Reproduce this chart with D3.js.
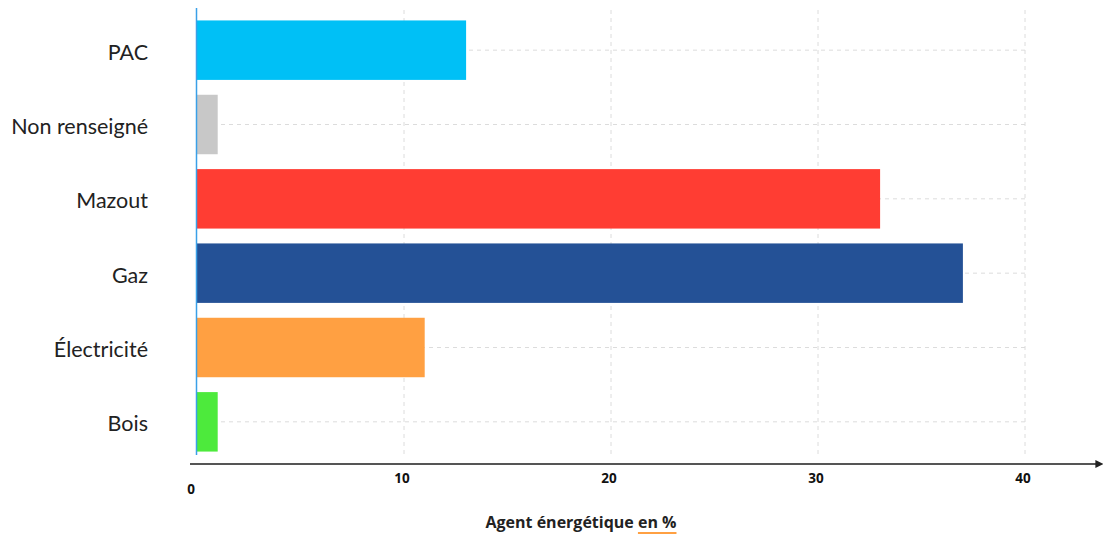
<!DOCTYPE html>
<html>
<head>
<meta charset="utf-8">
<script src="https://cdnjs.cloudflare.com/ajax/libs/d3/7.8.5/d3.min.js"></script>
<style>
    html, body { margin: 0; padding: 0; background: #fff; }
    svg { display: block; }
    .cat-label { font-family: Lato, "Open Sans", sans-serif; font-size: 21.5px; fill: #222; }
    .tick-label { font-family: "Open Sans", sans-serif; font-weight: 700; font-size: 13.5px; fill: #111; }
    .axis-title { font-family: "Open Sans", sans-serif; font-weight: 700; font-size: 16px; fill: #222; }
</style>
</head>
<body>
<div id="chart"></div>
<script>
// Energy sources, percent share
const categories = ['PAC', 'Non renseigné', 'Mazout', 'Gaz', 'Électricité', 'Bois'];
const values = [13, 1, 33, 37, 11, 1];
const colors = ['#00c0f6', '#c8c8c8', '#ff3d33', '#245196', '#ffa042', '#4dea3c'];
const tickValues = [0, 10, 20, 30, 40];

const width = 1103, height = 536;
const x0 = 197, yTop = 13, yBottom = 459, axisY = 464;

const svg = d3.select('#chart').append('svg')
    .attr('width', width)
    .attr('height', height);

const x = d3.scaleLinear().domain([0, 40]).range([x0, 1025]);
const y = d3.scaleBand().domain(categories).range([yTop, yBottom]).paddingInner(0.2).paddingOuter(0.1);

// dashed grid
const grid = svg.append('g').attr('stroke', '#dcdcdc').attr('stroke-dasharray', '4,4').attr('stroke-width', 1);
grid.selectAll('.vgrid')
    .data(tickValues.slice(1))
    .enter().append('line')
    .attr('x1', d => x(d)).attr('x2', d => x(d))
    .attr('y1', 10).attr('y2', 456);
grid.selectAll('.hgrid')
    .data(categories)
    .enter().append('line')
    .attr('x1', x0).attr('x2', x(40))
    .attr('y1', d => y(d) + y.bandwidth() / 2)
    .attr('y2', d => y(d) + y.bandwidth() / 2);

// bars
svg.selectAll('.bar')
    .data(categories)
    .enter().append('rect')
    .attr('x', x(0))
    .attr('y', d => y(d))
    .attr('width', (d, i) => x(values[i]) - x(0))
    .attr('height', y.bandwidth())
    .attr('fill', (d, i) => colors[i]);

// category labels
svg.selectAll('.cat-label')
    .data(categories)
    .enter().append('text')
    .attr('class', 'cat-label')
    .attr('x', 148)
    .attr('y', d => y(d) + y.bandwidth() / 2 + 2)
    .attr('dy', '0.35em')
    .attr('text-anchor', 'end')
    .text(d => d);

// left axis line (blue)
svg.append('line')
    .attr('x1', x0 - 0.5).attr('x2', x0 - 0.5)
    .attr('y1', 8).attr('y2', 455)
    .attr('stroke', '#3aa0e8').attr('stroke-width', 1.5);

// bottom axis with arrow
svg.append('defs').append('marker')
    .attr('id', 'arrow')
    .attr('viewBox', '0 0 10 10')
    .attr('refX', 2).attr('refY', 5)
    .attr('markerWidth', 4).attr('markerHeight', 4)
    .attr('orient', 'auto')
    .append('path').attr('d', 'M0,0 L10,5 L0,10 Z').attr('fill', '#222');

svg.append('line')
    .attr('x1', 190).attr('x2', 1097)
    .attr('y1', axisY).attr('y2', axisY)
    .attr('stroke', '#555').attr('stroke-width', 2)
    .attr('marker-end', 'url(#arrow)');

// tick labels (the zero sits a bit lower)
svg.selectAll('.tick-label')
    .data(tickValues)
    .enter().append('text')
    .attr('class', 'tick-label')
    .attr('x', d => d === 0 ? x(d) - 6 : x(d) - 2)
    .attr('y', d => d === 0 ? 494 : 483)
    .attr('text-anchor', 'middle')
    .text(d => d);

// axis title with underline on "en %"
const title = svg.append('text')
    .attr('class', 'axis-title')
    .attr('x', 581)
    .attr('y', 528)
    .attr('text-anchor', 'middle');
title.append('tspan').text('Agent énergétique ');
const enSpan = title.append('tspan').text('en %');

const bb = enSpan.node().getBBox();
svg.append('line')
    .attr('x1', bb.x).attr('x2', bb.x + bb.width)
    .attr('y1', 533).attr('y2', 533)
    .attr('stroke', '#ffa042').attr('stroke-width', 2);
</script>
</body>
</html>
